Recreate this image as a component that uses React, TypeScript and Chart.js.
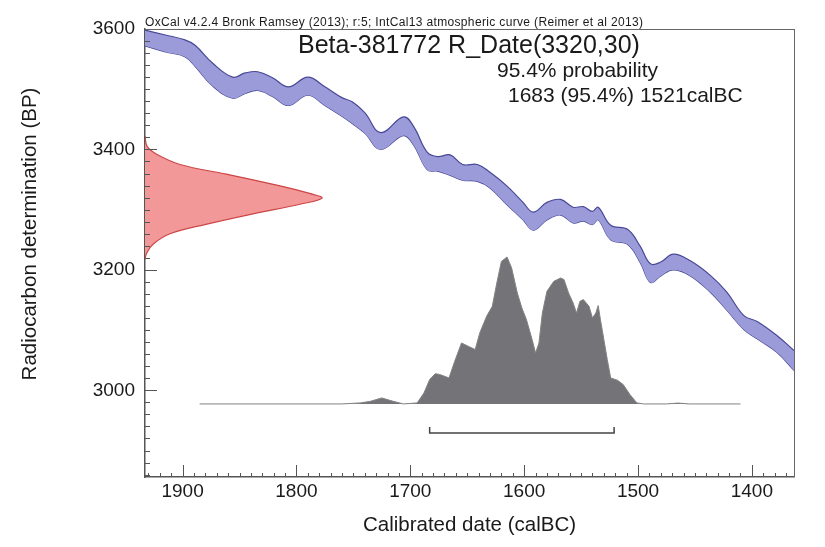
import React, { useEffect, useRef } from "react";
import { Chart, registerables } from "chart.js";

Chart.register(...registerables);

// ---- Data ----
// IntCal13 calibration curve band (calBC years, upper / lower BP)
const curveYears = [1933, 1915, 1898, 1889, 1874, 1856, 1845, 1834, 1821, 1807, 1790, 1775, 1760, 1751, 1740, 1726, 1706, 1697, 1685, 1676, 1665, 1654, 1641, 1630, 1615, 1601, 1592, 1580, 1568, 1557, 1548, 1540, 1535, 1524, 1509, 1498, 1489, 1480, 1469, 1454, 1436, 1422, 1407, 1395, 1378, 1363];
const curveUpperBP = [3598, 3590, 3582, 3573, 3544, 3520, 3527, 3529, 3519, 3504, 3520, 3504, 3486, 3479, 3461, 3428, 3454, 3438, 3395, 3388, 3391, 3375, 3375, 3362, 3339, 3312, 3296, 3312, 3317, 3304, 3305, 3297, 3304, 3274, 3267, 3239, 3210, 3213, 3226, 3215, 3190, 3163, 3124, 3114, 3091, 3066];
const curveLowerBP = [3572, 3562, 3554, 3538, 3506, 3485, 3493, 3498, 3488, 3473, 3490, 3473, 3455, 3443, 3427, 3400, 3423, 3407, 3366, 3364, 3357, 3349, 3347, 3336, 3308, 3283, 3266, 3283, 3291, 3278, 3281, 3275, 3283, 3250, 3242, 3212, 3179, 3190, 3200, 3190, 3162, 3133, 3101, 3085, 3063, 3033];

// Radiocarbon measurement distribution R_Date(3320,30) (BP, relative density)
const measBP = [3422, 3405, 3392, 3375, 3359, 3342, 3327, 3319, 3309, 3293, 3276, 3260, 3243, 3228, 3218];
const measDensity = [0, 0.012, 0.066, 0.198, 0.46, 0.725, 0.93, 1, 0.876, 0.61, 0.35, 0.141, 0.047, 0.01, 0];

// Calibrated probability distribution (calBC years, relative probability)
const probYears = [1885, 1760, 1744, 1735, 1725, 1715, 1706, 1694, 1688, 1683, 1678, 1674, 1666, 1661, 1655, 1649, 1643, 1639, 1633, 1628, 1624, 1620, 1615, 1611, 1606, 1602, 1598, 1593, 1590, 1587, 1584, 1580, 1574, 1568, 1565, 1561, 1557, 1554, 1551, 1548, 1543, 1540, 1537, 1535, 1533, 1530, 1527, 1524, 1518, 1513, 1507, 1501, 1495, 1475, 1465, 1455, 1410];
const probValues = [0, 0, 0.007, 0.018, 0.041, 0.018, 0, 0.007, 0.075, 0.166, 0.206, 0.2, 0.177, 0.29, 0.415, 0.392, 0.37, 0.483, 0.596, 0.664, 0.823, 0.97, 1.0, 0.925, 0.755, 0.653, 0.574, 0.438, 0.347, 0.415, 0.619, 0.766, 0.834, 0.857, 0.846, 0.755, 0.687, 0.619, 0.698, 0.71, 0.664, 0.585, 0.619, 0.669, 0.574, 0.438, 0.302, 0.177, 0.161, 0.132, 0.063, 0.007, 0, 0, 0.006, 0, 0];

// 95.4% range
const rangeFrom = 1683;
const rangeTo = 1521;

// Axis ticks
const xTickLabels = [1900, 1800, 1700, 1600, 1500, 1400];
const yTickLabels = [3000, 3200, 3400, 3600];

// Texts
const headerText = "OxCal v4.2.4 Bronk Ramsey (2013); r:5; IntCal13 atmospheric curve (Reimer et al 2013)";
const titleText = "Beta-381772 R_Date(3320,30)";
const probText = "95.4% probability";
const rangeText = "1683 (95.4%) 1521calBC";
const xTitle = "Calibrated date (calBC)";
const yTitle = "Radiocarbon determination (BP)";

const FONT = "'Liberation Sans', Arial, Helvetica, sans-serif";

const decorPlugin = {
  id: "decor",
  afterDatasetsDraw(chart: any) {
    const { ctx, chartArea: a, scales } = chart;
    const xs = scales.x;
    const ys = scales.y;
    ctx.save();
    ctx.strokeStyle = "#555";
    ctx.lineWidth = 1;
    const seg = (x1: number, y1: number, x2: number, y2: number) => {
      ctx.beginPath();
      ctx.moveTo(x1, y1);
      ctx.lineTo(x2, y2);
      ctx.stroke();
    };
    // y ticks (inward)
    const yStart = Math.ceil(ys.min / 20) * 20;
    for (let v = yStart; v <= ys.max; v += 20) {
      const py = Math.round(ys.getPixelForValue(v)) + 0.5;
      const major = yTickLabels.includes(v);
      seg(a.left, py, a.left + (major ? 12 : 5), py);
    }
    // x ticks (inward)
    const xStart = Math.ceil(xs.min / 10) * 10;
    for (let v = xStart; v <= xs.max; v += 10) {
      const px = Math.round(xs.getPixelForValue(v)) + 0.5;
      const major = xTickLabels.includes(v);
      seg(px, a.bottom, px, a.bottom - (major ? 12 : 4));
    }
    // frame right/top
    ctx.strokeStyle = "#666";
    seg(Math.round(a.right) + 0.5, a.top, Math.round(a.right) + 0.5, a.bottom);
    seg(a.left, Math.round(a.top) + 0.5, a.right, Math.round(a.top) + 0.5);
    ctx.restore();
  },
  afterDraw(chart: any) {
    const { ctx, chartArea: a } = chart;
    ctx.save();
    ctx.fillStyle = "#1a1a1a";
    ctx.textBaseline = "alphabetic";
    ctx.textAlign = "left";
    // header
    ctx.font = `12px ${FONT}`;
    const w = ctx.measureText(headerText).width;
    const target = 498;
    const ls = Math.max(0, (target - w) / (headerText.length - 1));
    (ctx as any).letterSpacing = `${ls}px`;
    ctx.fillText(headerText, a.left, a.top - 3);
    (ctx as any).letterSpacing = "0px";
    // title
    ctx.font = `25px ${FONT}`;
    ctx.fillText(titleText, 298, 53);
    ctx.font = `21px ${FONT}`;
    ctx.fillText(probText, 497, 77);
    ctx.fillText(rangeText, 508, 102);
    // y title
    ctx.font = `20.5px ${FONT}`;
    ctx.translate(30.5, 234);
    ctx.rotate(-Math.PI / 2);
    ctx.textAlign = "center";
    ctx.textBaseline = "middle";
    ctx.fillText(yTitle, 0, 0);
    ctx.restore();
  },
};

export default function App() {
  const ref = useRef<HTMLCanvasElement>(null);

  useEffect(() => {
    const curveUpper = curveYears.map((yr, i) => ({ x: yr, y: curveUpperBP[i] }));
    const curveLower = curveYears.map((yr, i) => ({ x: yr, y: curveLowerBP[i] }));
    const meas = measBP.map((bp, i) => ({ x: measDensity[i], y: bp }));
    const prob = probYears.map((yr, i) => ({ x: yr, y: probValues[i] }));
    const BRACKET_LEVEL = -0.197;
    const BRACKET_TICK = -0.156;
    const bracket = [
      { x: rangeFrom, y: BRACKET_TICK },
      { x: rangeFrom, y: BRACKET_LEVEL },
      { x: rangeTo, y: BRACKET_LEVEL },
      { x: rangeTo, y: BRACKET_TICK },
    ];

    const chart = new Chart(ref.current as HTMLCanvasElement, {
      type: "line",
      data: {
        datasets: [
          {
            label: "curve upper",
            data: curveUpper,
            xAxisID: "x",
            yAxisID: "y",
            borderColor: "rgb(72,72,150)",
            borderWidth: 1.2,
            backgroundColor: "rgb(155,155,218)",
            fill: "+1",
            tension: 0.4,
            pointRadius: 0,
          },
          {
            label: "curve lower",
            data: curveLower,
            xAxisID: "x",
            yAxisID: "y",
            borderColor: "rgb(72,72,150)",
            borderWidth: 1.2,
            fill: false,
            tension: 0.4,
            pointRadius: 0,
          },
          {
            label: "measurement",
            data: meas,
            indexAxis: "y",
            xAxisID: "xr",
            yAxisID: "y",
            borderColor: "rgb(205,70,70)",
            borderWidth: 1.2,
            backgroundColor: "rgb(243,152,152)",
            fill: "origin",
            tension: 0.4,
            pointRadius: 0,
          } as any,
          {
            label: "calibrated",
            data: prob,
            xAxisID: "x",
            yAxisID: "yg",
            borderColor: "rgb(130,130,130)",
            borderWidth: 1,
            backgroundColor: "rgb(116,116,120)",
            fill: "origin",
            tension: 0,
            pointRadius: 0,
          },
          {
            label: "range",
            data: bracket,
            xAxisID: "x",
            yAxisID: "yg",
            borderColor: "#444",
            borderWidth: 1.5,
            fill: false,
            tension: 0,
            pointRadius: 0,
          },
        ],
      },
      options: {
        animation: false,
        responsive: false,
        maintainAspectRatio: false,
        devicePixelRatio: 1,
        layout: { padding: { left: 0, top: 29, right: 31, bottom: 0 } },
        plugins: {
          legend: { display: false },
          tooltip: { enabled: false },
        },
        elements: { point: { radius: 0 } },
        scales: {
          x: {
            type: "linear",
            position: "bottom",
            reverse: true,
            min: 1363,
            max: 1933,
            afterFit: (s: any) => {
              s.height = 70;
            },
            afterBuildTicks: (s: any) => {
              s.ticks = xTickLabels.map((v) => ({ value: v }));
            },
            grid: { display: false, drawTicks: false },
            border: { display: true, color: "#555", width: 1.5 },
            ticks: {
              stepSize: 100,
              padding: 3,
              color: "#1a1a1a",
              font: { family: FONT, size: 19 },
              maxRotation: 0,
              autoSkip: false,
              callback: (v: any) => String(v),
            },
            title: {
              display: true,
              text: xTitle,
              color: "#1a1a1a",
              font: { family: FONT, size: 20.5 },
              padding: { top: 0, bottom: 9 },
            },
          },
          y: {
            type: "linear",
            position: "left",
            min: 2856,
            max: 3600,
            afterFit: (s: any) => {
              s.width = 145;
            },
            afterBuildTicks: (s: any) => {
              s.ticks = yTickLabels.map((v) => ({ value: v }));
            },
            grid: { display: false, drawTicks: false },
            border: { display: true, color: "#555", width: 1.5 },
            ticks: {
              stepSize: 200,
              padding: 10,
              color: "#1a1a1a",
              font: { family: FONT, size: 19 },
              autoSkip: false,
              callback: (v: any) => String(v),
            },
          },
          xr: {
            type: "linear",
            position: "bottom",
            display: false,
            min: 0,
            max: 3.667,
          },
          yg: {
            type: "linear",
            position: "left",
            display: false,
            min: -0.497,
            max: 2.551,
          },
        },
      } as any,
      plugins: [decorPlugin],
    });
    return () => chart.destroy();
  }, []);

  return (
    <div style={{ position: "absolute", left: 0, top: 0, width: 825, height: 547, background: "#fff" }}>
      <canvas ref={ref} width={825} height={547} style={{ display: "block", width: 825, height: 547 }} />
    </div>
  );
}
